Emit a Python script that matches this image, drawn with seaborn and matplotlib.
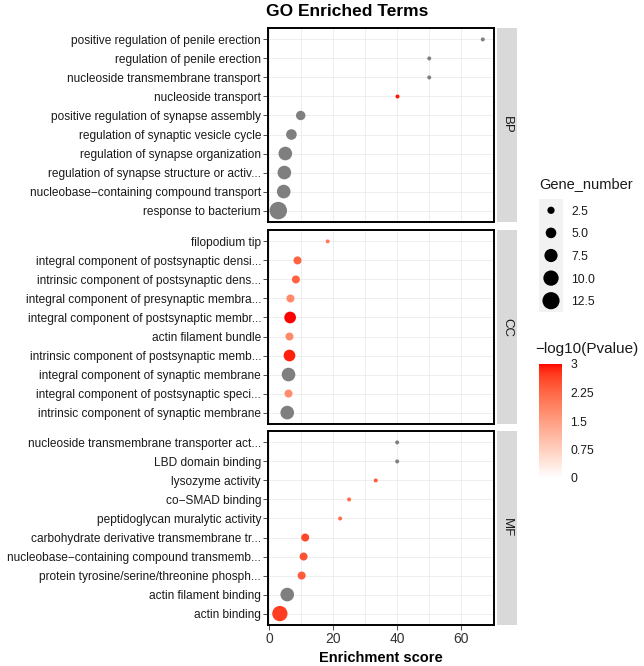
import numpy as np
import pandas as pd
import matplotlib
matplotlib.use("Agg")
import matplotlib.pyplot as plt
from matplotlib.colors import ListedColormap, Normalize
from matplotlib.cm import ScalarMappable
import seaborn as sns

# ---------------- data ----------------
bp_terms = ["positive regulation of penile erection", "regulation of penile erection",
            "nucleoside transmembrane transport", "nucleoside transport",
            "positive regulation of synapse assembly", "regulation of synaptic vesicle cycle",
            "regulation of synapse organization", "regulation of synapse structure or activ...",
            "nucleobase\u2212containing compound transport", "response to bacterium"]
bp_score = [66.7, 50.0, 50.0, 40.0, 9.9, 7.0, 5.1, 4.8, 4.6, 2.9]
bp_genes = [1, 1, 1, 1, 4, 5, 8, 8, 8, 13]
bp_logp = [np.nan, np.nan, np.nan, 2.95, np.nan, np.nan, np.nan, np.nan, np.nan, np.nan]

cc_terms = ["filopodium tip", "integral component of postsynaptic densi...",
            "intrinsic component of postsynaptic dens...", "integral component of presynaptic membra...",
            "integral component of postsynaptic membr...", "actin filament bundle",
            "intrinsic component of postsynaptic memb...", "integral component of synaptic membrane",
            "integral component of postsynaptic speci...", "intrinsic component of synaptic membrane"]
cc_score = [18.3, 8.9, 8.4, 6.7, 6.6, 6.4, 6.4, 6.1, 6.1, 5.7]
cc_genes = [1, 3, 3, 3, 6, 3, 6, 8, 3, 8]
cc_logp = [2.0, 2.3, 2.3, 1.8, 3.0, 1.8, 2.9, np.nan, 1.75, np.nan]

mf_terms = ["nucleoside transmembrane transporter act...", "LBD domain binding", "lysozyme activity",
            "co\u2212SMAD binding", "peptidoglycan muralytic activity",
            "carbohydrate derivative transmembrane tr...", "nucleobase\u2212containing compound transmemb...",
            "protein tyrosine/serine/threonine phosph...", "actin filament binding", "actin binding"]
mf_score = [40.0, 40.0, 33.3, 25.0, 22.2, 11.3, 10.8, 10.2, 5.7, 3.4]
mf_genes = [1, 1, 1, 1, 1, 3, 3, 3, 8, 10]
mf_logp = [np.nan, np.nan, 2.4, 2.2, 2.2, 2.6, 2.5, 2.4, np.nan, 2.7]

ontologies = ["BP", "CC", "MF"]
x_ticks = [0, 20, 40, 60]
size_breaks = [2.5, 5.0, 7.5, 10.0, 12.5]
size_labels = ["2.5", "5.0", "7.5", "10.0", "12.5"]
color_breaks = [0, 0.75, 1.5, 2.25, 3]
color_labels = ["0", "0.75", "1.5", "2.25", "3"]

panels = {
    "BP": (bp_terms, bp_score, bp_genes, bp_logp),
    "CC": (cc_terms, cc_score, cc_genes, cc_logp),
    "MF": (mf_terms, mf_score, mf_genes, mf_logp),
}

# ---------------- style ----------------
sns.set_theme(style="white")
plt.rcParams["font.family"] = ["Liberation Sans", "DejaVu Sans"]

TXT = "#1A1A1A"
GRID = "#EBEBEB"
NA_GREY = "#7F7F7F"
SIZES = (8.3, 159.0)
SIZE_NORM = (1, 13)


# white -> red gradient interpolated in CIE Lab (like ggplot's scale_colour_gradient)
def _srgb_to_lin(c):
    c = np.asarray(c, float)
    return np.where(c <= 0.04045, c / 12.92, ((c + 0.055) / 1.055) ** 2.4)


def _lin_to_srgb(c):
    c = np.clip(c, 0, 1)
    return np.where(c <= 0.0031308, 12.92 * c, 1.055 * c ** (1 / 2.4) - 0.055)


M = np.array([[0.4124, 0.3576, 0.1805], [0.2126, 0.7152, 0.0722], [0.0193, 0.1192, 0.9505]])
WP = np.array([0.95047, 1.0, 1.08883])


def rgb2lab(rgb):
    xyz = M @ _srgb_to_lin(rgb) / WP
    f = np.where(xyz > 0.008856, np.cbrt(xyz), 7.787 * xyz + 16 / 116)
    return np.array([116 * f[1] - 16, 500 * (f[0] - f[1]), 200 * (f[1] - f[2])])


def lab2rgb(lab):
    fy = (lab[0] + 16) / 116
    fx = fy + lab[1] / 500
    fz = fy - lab[2] / 200
    f = np.array([fx, fy, fz])
    xyz = np.where(f ** 3 > 0.008856, f ** 3, (f - 16 / 116) / 7.787) * WP
    return _lin_to_srgb(np.linalg.inv(M) @ xyz)


lo, hi = rgb2lab([1, 1, 1]), rgb2lab([1, 0, 0])
cmap = ListedColormap([lab2rgb(lo + (hi - lo) * t) for t in np.linspace(0, 1, 256)])

W, H = 644, 666
fig = plt.figure(figsize=(W / 100, H / 100), dpi=100)


def fx(px):
    return px / W


def fy(py):
    return 1 - py / H


panel_left, panel_right = 268, 494
panel_tops = [28, 230, 431]
panel_h = 194
axes = []
for i, ont in enumerate(ontologies):
    top = panel_tops[i]
    ax = fig.add_axes([fx(panel_left), fy(top + panel_h), fx(panel_right - panel_left), panel_h / H])
    terms, score, genes, logp = panels[ont]
    df = pd.DataFrame({"term": terms, "score": score, "genes": genes, "logp": logp})
    ax.yaxis.update_units(np.array(terms))
    # grid
    for gx in [0, 10, 20, 30, 40, 50, 60]:
        ax.axvline(gx, color=GRID, lw=0.6, zorder=0)
    for t in terms:
        ax.axhline(t, color=GRID, lw=0.6, zorder=0)
    na = df[df["logp"].isna()]
    ok = df[df["logp"].notna()]
    sns.scatterplot(data=na, x="score", y="term", size="genes", sizes=SIZES, size_norm=SIZE_NORM,
                    color=NA_GREY, linewidth=0, legend=False, ax=ax, zorder=3)
    sns.scatterplot(data=ok, x="score", y="term", size="genes", sizes=SIZES, size_norm=SIZE_NORM,
                    hue="logp", hue_norm=(0, 3), palette=cmap, linewidth=0, legend=False, ax=ax, zorder=3)
    ax.set_xlim(-0.3, 70.2)
    ax.set_ylim(len(terms) - 0.4, -0.6)
    ax.set_xlabel("")
    ax.set_ylabel("")
    ax.set_xticks(x_ticks)
    ax.tick_params(axis="y", labelsize=8.55, labelcolor=TXT, length=3.5, width=0.6, color="#333333",
                   left=True, pad=1.5)
    ax.tick_params(axis="x", labelsize=10, labelcolor="#333333", length=3.5, width=0.6,
                   color="#333333", bottom=True, pad=1.5)
    if i < 2:
        ax.tick_params(axis="x", bottom=False, labelbottom=False)
    for sp in ax.spines.values():
        sp.set_visible(True)
        sp.set_color("black")
        sp.set_linewidth(1.4)
    ax.set_facecolor("white")
    # facet strip
    sax = fig.add_axes([fx(497), fy(top + panel_h), fx(20), panel_h / H])
    sax.set_facecolor("#D9D9D9")
    sax.set_xticks([])
    sax.set_yticks([])
    for sp in sax.spines.values():
        sp.set_visible(False)
    sax.text(0.5, 0.5, ont, rotation=-90, ha="center", va="center", fontsize=9.5, color=TXT,
             transform=sax.transAxes)
    axes.append(ax)

axes[-1].set_xlabel("Enrichment score", fontsize=10.5, fontweight="bold", color="black", labelpad=4)

fig.text(fx(347), fy(12), "GO Enriched Terms", ha="center", va="center", fontsize=12.5,
         fontweight="bold", color="black")

# size legend
fig.text(fx(539), fy(184), "Gene_number", ha="left", va="center", fontsize=10.5, color=TXT)
lax = fig.add_axes([fx(539), fy(312), fx(24), 113 / H])
lax.set_facecolor("#F2F2F2")
ldf = pd.DataFrame({"lab": size_labels, "val": size_breaks, "x": [0] * len(size_breaks)})
lax.yaxis.update_units(np.array(size_labels))
sns.scatterplot(data=ldf, x="x", y="lab", size="val", sizes=SIZES, size_norm=SIZE_NORM,
                color="black", linewidth=0, legend=False, ax=lax)
lax.set_xlim(-1, 1)
lax.set_ylim(len(size_labels) - 0.5, -0.5)
lax.set_xlabel("")
lax.set_ylabel("")
lax.set_xticks([])
lax.yaxis.tick_right()
lax.tick_params(axis="y", length=0, labelsize=8.7, labelcolor=TXT, pad=6)
for sp in lax.spines.values():
    sp.set_visible(False)

# colour bar
fig.text(fx(535), fy(349), "\u2212log10(Pvalue)", ha="left", va="center", fontsize=11, color=TXT)
cax = fig.add_axes([fx(539), fy(478), fx(23), 114 / H])
cb = fig.colorbar(ScalarMappable(norm=Normalize(0, 3), cmap=cmap), cax=cax)
cb.outline.set_visible(False)
cb.set_ticks(color_breaks)
cb.set_ticklabels(color_labels)
cax.tick_params(axis="y", which="both", left=True, right=True, direction="in", color="white",
                length=4, width=0.8, labelsize=8.7, labelcolor=TXT, pad=6)

fig.savefig("out.png", dpi=100, facecolor="white")
